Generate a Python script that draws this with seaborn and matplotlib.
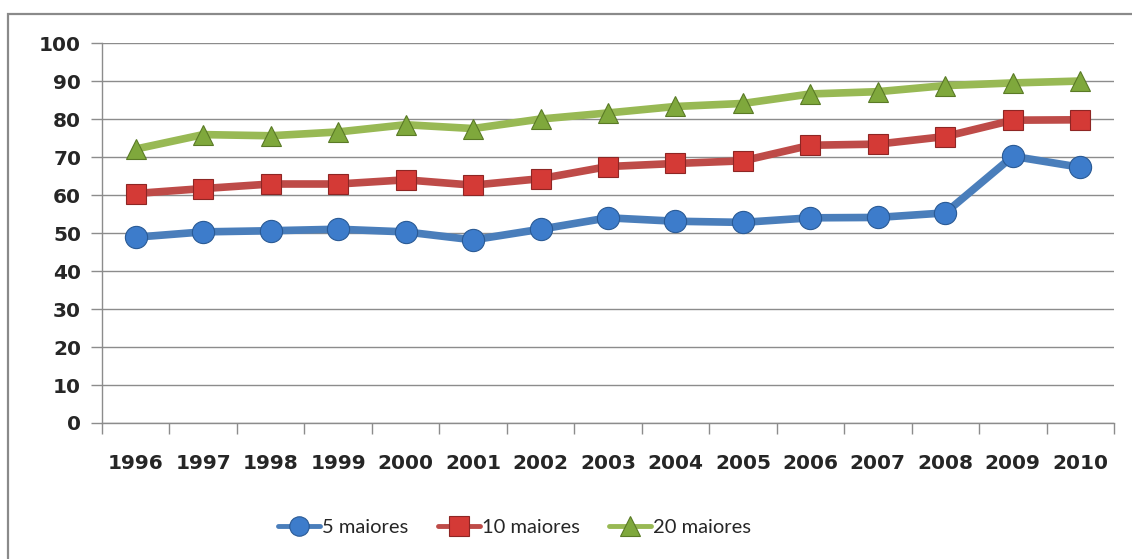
import numpy as np
import pandas as pd
import seaborn as sns
import matplotlib.pyplot as plt
from matplotlib.patches import Rectangle
from matplotlib.ticker import FixedLocator

sns.set_style("white")
plt.rcParams["font.family"] = ["DejaVu Sans"]

years = [str(y) for y in range(1996, 2011)]
top5 = [48.9, 50.3, 50.6, 51.0, 50.3, 48.2, 51.0, 54.0, 53.1, 52.8, 54.0, 54.1, 55.3, 70.2, 67.3]
top10 = [60.4, 61.7, 62.9, 62.9, 64.0, 62.6, 64.3, 67.5, 68.3, 69.0, 73.1, 73.4, 75.4, 79.7, 79.8]
top20 = [72.1, 75.9, 75.6, 76.6, 78.5, 77.5, 80.0, 81.6, 83.3, 84.1, 86.6, 87.2, 88.8, 89.5, 90.0]
labels = ["5 maiores", "10 maiores", "20 maiores"]

df = pd.DataFrame({"ano": years * 3,
                   "valor": top5 + top10 + top20,
                   "serie": np.repeat(labels, len(years))})

styles = {
    "5 maiores": dict(color="#4A7EBB", marker="o", mfc="#3D7CCB", mec="#2A5A95", ms=16),
    "10 maiores": dict(color="#BE4B48", marker="s", mfc="#D43A36", mec="#8E2624", ms=15),
    "20 maiores": dict(color="#98B954", marker="^", mfc="#7FA83C", mec="#5A7A26", ms=14),
}

fig = plt.figure(figsize=(11.32, 5.59), dpi=100)
ax = fig.add_axes([0.0901, 0.2433, 0.8940, 0.6797])

for name in labels:
    st = styles[name]
    sns.lineplot(data=df[df["serie"] == name], x="ano", y="valor", ax=ax,
                 color=st["color"], linewidth=5.5, marker=st["marker"],
                 markersize=st["ms"], markerfacecolor=st["mfc"],
                 markeredgecolor=st["mec"], markeredgewidth=0.8,
                 label=name)

ax.set_ylim(0, 100)
ax.set_xlim(-0.5, len(years) - 0.5)
ax.set_yticks(range(0, 101, 10))
ax.yaxis.grid(True, color="#8C8C8C", linewidth=1)
ax.set_axisbelow(True)
ax.xaxis.set_minor_locator(FixedLocator(np.arange(-0.5, len(years), 1.0)))
ax.tick_params(axis="x", which="minor", length=8, width=1, color="#8C8C8C",
               direction="out", bottom=True)
ax.tick_params(axis="x", which="major", length=0, pad=22)
ax.tick_params(axis="y", which="major", length=8, width=1, color="#8C8C8C",
               direction="out", left=True, pad=7)
for lab in ax.get_xticklabels() + ax.get_yticklabels():
    lab.set_fontsize(14.5)
    lab.set_fontweight("bold")
ax.set_xlabel("")
ax.set_ylabel("")
for side in ["top", "right"]:
    ax.spines[side].set_visible(False)
for side in ["left", "bottom"]:
    ax.spines[side].set_color("#8C8C8C")
    ax.spines[side].set_linewidth(1)

ax.get_legend().remove()
handles, hl = ax.get_legend_handles_labels()
leg = fig.legend(handles, hl, loc="center", bbox_to_anchor=(0.4545, 0.057),
                 ncol=3, frameon=False, handlelength=2.1, columnspacing=1.45,
                 handletextpad=0.1, prop={"family": "Lato", "size": 14.5})
for h in leg.legend_handles:
    h.set_markersize(14)
    h.set_linewidth(3.5)

fig.patches.append(Rectangle((8 / 1132, -0.1), 1.2, 0.975 + 0.1,
                             transform=fig.transFigure, fill=False,
                             edgecolor="#8A8A8A", linewidth=1.6))

fig.savefig("out.png", dpi=100)
